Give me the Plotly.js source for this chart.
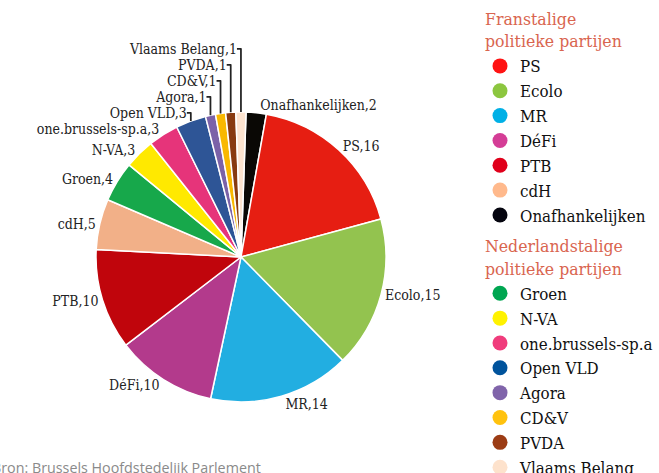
<!DOCTYPE html>
<html>
<head>
<meta charset="utf-8">
<script src="https://cdn.plot.ly/plotly-3.0.1.min.js"></script>
<style>html,body{margin:0;padding:0;background:#fff;}#chart{width:659px;height:473px;}</style>
</head>
<body>
<div id="chart"></div>
<script>
// Pie data, clockwise from the top
const parties = ["Onafhankelijken","PS","Ecolo","MR","DéFi","PTB","cdH","Groen","N-VA","one.brussels-sp.a","Open VLD","Agora","CD&V","PVDA","Vlaams Belang"];
const seats = [2,16,15,14,10,10,5,4,3,3,3,1,1,1,1];
const sliceColors = ["#0a0805","#e61e12","#93c34f","#22aee1","#b33a8c","#c0050c","#f2b088","#17a84b","#ffe900","#e6347a","#2e5596","#7b62a8","#f9b800","#883a10","#fce3cf"];

// Legend groups
const frTitle = "Franstalige<br>politieke partijen";
const frParties = ["PS","Ecolo","MR","DéFi","PTB","cdH","Onafhankelijken"];
const frColors = ["#ff1313","#8cc63f","#00b0e6","#d43d96","#e0001b","#ffb98c","#05050f"];
const nlTitle = "Nederlandstalige<br>politieke partijen";
const nlParties = ["Groen","N-VA","one.brussels-sp.a","Open VLD","Agora","CD&V","PVDA","Vlaams Belang"];
const nlColors = ["#00a651","#fff200","#f03c7c","#00539c","#8064aa","#ffc20e","#9c3c14","#fde2cc"];

const source = "Bron: Brussels Hoofdstedelijk Parlement";

const W = 659, H = 473;
const FONT = "DejaVu Serif Condensed, DejaVu Serif, serif";
const LFONT = "DejaVu Serif Condensed, DejaVu Serif, serif";

const traces = [{
  type: "pie",
  labels: parties,
  values: seats,
  sort: false,
  direction: "clockwise",
  rotation: 2,
  marker: {colors: sliceColors, line: {color: "#ffffff", width: 1.5}},
  textposition: "outside",
  texttemplate: "%{label},%{value}",
  textfont: {family: FONT, size: 14, color: "#222"},
  outsidetextfont: {family: FONT, size: 14, color: "#222"},
  hoverinfo: "label+value",
  showlegend: false,
  domain: {x: [(241-145)/W, (241+145)/W], y: [1-402/H, 1-112/H]}
}];

function addGroup(names, colors, group, title) {
  names.forEach((n, i) => {
    const t = {
      type: "scatter", mode: "markers", x: [null], y: [null],
      name: n, legendgroup: group,
      marker: {color: colors[i], size: 15, symbol: "circle"},
      showlegend: true, hoverinfo: "skip"
    };
    if (i === 0) t.legendgrouptitle = {text: title, font: {family: LFONT, size: 17.5, color: "#d9654f"}};
    traces.push(t);
  });
}
addGroup(frParties, frColors, "fr", frTitle);
addGroup(nlParties, nlColors, "nl", nlTitle);

const layout = {
  width: W, height: H,
  margin: {l: 0, r: 0, t: 0, b: 0},
  paper_bgcolor: "#fff", plot_bgcolor: "#fff",
  xaxis: {visible: false, domain: [0.99, 1]},
  yaxis: {visible: false, domain: [0.99, 1]},
  showlegend: true,
  legend: {
    x: 480/W, xanchor: "left", y: 1 - 2/H, yanchor: "top",
    traceorder: "grouped", tracegroupgap: 5,
    font: {family: LFONT, size: 16.8, color: "#111"},
    bgcolor: "rgba(0,0,0,0)", itemclick: false
  },
  annotations: [{
    text: source, xref: "paper", yref: "paper",
    x: -10/W, y: 1 - 467/H, xanchor: "left", yanchor: "middle",
    showarrow: false, font: {family: "Open Sans, sans-serif", size: 14.3, color: "#8a8a8a"}
  }]
};

Plotly.newPlot("chart", traces, layout, {staticPlot: true, displayModeBar: false});
</script>
</body>
</html>
